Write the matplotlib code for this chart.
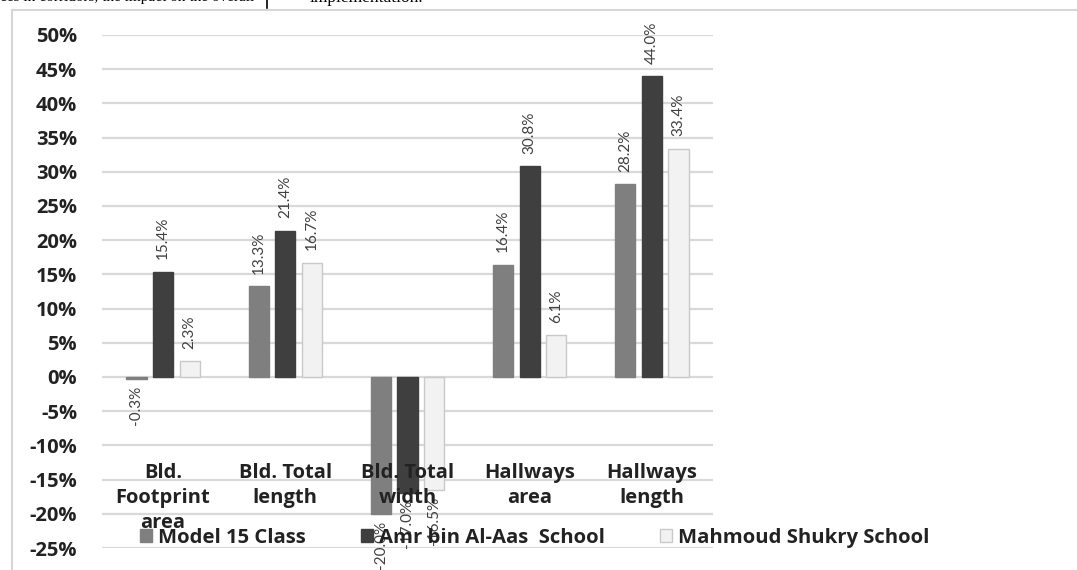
import numpy as np
import matplotlib.pyplot as plt
from matplotlib.lines import Line2D

# ==========================================
# DATA
# ==========================================
categories = ["Bld.\nFootprint\narea", "Bld. Total\nlength", "Bld. Total\nwidth",
              "Hallways\narea", "Hallways\nlength"]
series_names = ["Model 15 Class", "Amr bin Al-Aas  School", "Mahmoud Shukry School"]
model_15 = [-0.3, 13.3, -20.0, 16.4, 28.2]
amr_bin = [15.4, 21.4, -17.0, 30.8, 44.0]
mahmoud = [2.3, 16.7, -16.5, 6.1, 33.4]
y_ticks = list(range(-25, 55, 5))

series = [model_15, amr_bin, mahmoud]
face_cols = ['#7f7f7f', '#3f3f3f', '#f2f2f2']
edge_cols = ['#7f7f7f', '#3f3f3f', '#c9c9c9']

W, H = 1077, 570
fig = plt.figure(figsize=(W / 100, H / 100), dpi=100)
fig.patch.set_facecolor('white')

# --- page bits around the chart (clipped paper text + frame) ---
fig.text(0 / W, 1 + 2 / H, "ces in corridors, the impact on the overall",
         family='Liberation Serif', fontsize=11, va='center', ha='left', color='black')
fig.text(310 / W, 1 + 2 / H, "implementation.",
         family='Liberation Serif', fontsize=12.5, va='center', ha='left', color='black')
fig.add_artist(Line2D([267 / W, 267 / W], [1, 1 - 8 / H], color='black', lw=1.2))
fig.add_artist(Line2D([12 / W, 1], [1 - 10 / H, 1 - 10 / H], color='#d6d6d6', lw=1.5))
fig.add_artist(Line2D([12 / W, 12 / W], [1 - 10 / H, 0], color='#d6d6d6', lw=1.5))

# ==========================================
# CHART
# ==========================================
ax = fig.add_axes([102 / W, 1 - 548 / H, 611 / W, 513 / H])
ax.set_xlim(-0.5, len(categories) - 0.5)
ax.set_ylim(-25, 50)

x = np.arange(len(categories))
bar_w = 0.165
step = 0.218
for i, (vals, fc, ec, name) in enumerate(zip(series, face_cols, edge_cols, series_names)):
    xs = x + (i - 1) * step
    ax.bar(xs, vals, width=bar_w, color=fc, edgecolor=ec, linewidth=1, label=name, zorder=2)
    for xv, v in zip(xs, vals):
        off = 9 if v >= 0 else -5
        ax.annotate(f"{v:.1f}%", (xv, v), xytext=(0, off), textcoords='offset points',
                    rotation=90, ha='center', va='bottom' if v >= 0 else 'top',
                    fontsize=11, color='#404040', family='Lato', zorder=3)

ax.set_yticks(y_ticks)
ax.set_yticklabels([f"{t}%" for t in y_ticks])
ax.yaxis.grid(True, color='#d9d9d9', linewidth=1.6, zorder=0)
ax.set_axisbelow(True)
ax.tick_params(axis='y', length=0, pad=18, labelsize=14.5, labelcolor='#222222')
for lab in ax.get_yticklabels():
    lab.set_fontweight('bold')
    lab.set_family('Open Sans')
ax.set_xticks([])
for s in ax.spines.values():
    s.set_visible(False)

# category labels sit low in the plot, Excel style
for xv, c in zip(x, categories):
    ax.text(xv, -12.6, c, ha='center', va='top', fontsize=14.5, fontweight='bold',
            family='Open Sans', color='#222222', linespacing=1.32, zorder=4)

leg = fig.legend(loc='center left', bbox_to_anchor=(140 / W, 1 - 538 / H), ncol=3,
                 frameon=False, handlelength=0.6, handleheight=0.6, handletextpad=0.3,
                 columnspacing=2.7, borderpad=0, borderaxespad=0,
                 prop={'family': 'Open Sans', 'weight': 'bold', 'size': 14.6})
for t in leg.get_texts():
    t.set_color('#222222')

plt.savefig('out.png', dpi=100, facecolor='white')
plt.close(fig)
